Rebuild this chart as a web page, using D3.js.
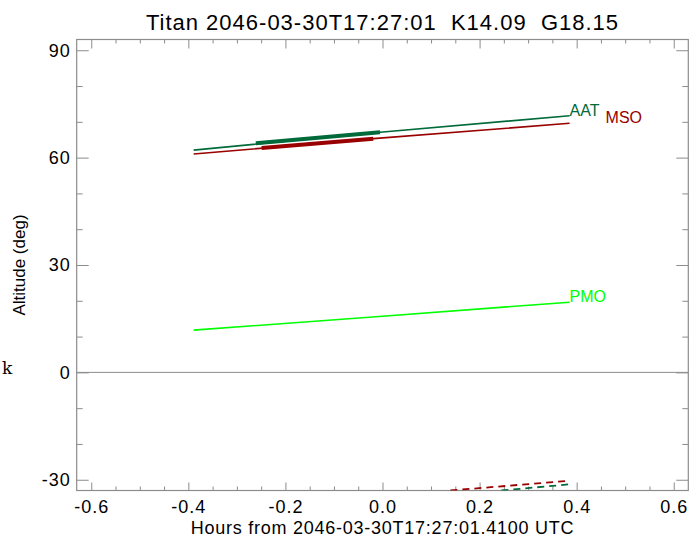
<!DOCTYPE html>
<html>
<head>
<meta charset="utf-8">
<script src="https://cdn.jsdelivr.net/npm/d3@7"></script>
<style>
  html, body { margin: 0; padding: 0; background: #fff; }
  svg { display: block; }
</style>
</head>
<body>
<svg id="chart" width="700" height="539"></svg>
<script>
const titleText = "Titan 2046-03-30T17:27:01  K14.09  G18.15";
const xLabel = "Hours from 2046-03-30T17:27:01.4100 UTC";
const yLabel = "Altitude (deg)";
const sideMark = "k";

const xDomain = [-0.63, 0.63];
const yDomain = [-33, 93];
const xTicks = [-0.6, -0.4, -0.2, 0.0, 0.2, 0.4, 0.6];
const xTickLabels = ["-0.6", "-0.4", "-0.2", "0.0", "0.2", "0.4", "0.6"];
const yTicks = [-30, 0, 30, 60, 90];
const yTickLabels = ["-30", "0", "30", "60", "90"];

const observatories = ["AAT", "MSO", "PMO"];
const colors = ["#006a3a", "#990000", "#00ff00"];

// thin tracks: [hours, altitude]
const aatTrack = [[-0.389, 62.1], [-0.005, 67.1], [0.3855, 71.7]];
const msoTrack = [[-0.389, 61.0], [-0.019, 65.3], [0.3855, 69.6]];
const pmoTrack = [[-0.389, 11.8], [0.0, 15.7], [0.3855, 19.6]];
// thick (dark-time) segments
const aatThick = [[-0.261, 64.0], [-0.005, 67.1]];
const msoThick = [[-0.249, 62.7], [-0.019, 65.3]];
// dashed tracks near the bottom
const aatDashed = [[0.245, -33.0], [0.383, -31.3]];
const msoDashed = [[0.140, -33.0], [0.382, -30.3]];

const margin = { left: 76.7, right: 700 - 688.3, top: 39.5, bottom: 539 - 490.5 };
const W = 700, H = 539;
const svg = d3.select("#chart");
const x = d3.scaleLinear().domain(xDomain).range([margin.left, W - margin.right]);
const y = d3.scaleLinear().domain(yDomain).range([H - margin.bottom, margin.top]);
const axisColor = "#8c8c8c";
const font = "'Liberation Sans', Arial, Helvetica, sans-serif";

svg.append("defs").append("clipPath").attr("id", "clip")
  .append("rect").attr("x", x(xDomain[0])).attr("y", y(yDomain[1]))
  .attr("width", x(xDomain[1]) - x(xDomain[0])).attr("height", y(yDomain[0]) - y(yDomain[1]));

// minor ticks
const xMinor = d3.range(-0.6, 0.6001, 0.05).map(v => +v.toFixed(2)).filter(v => !xTicks.some(t => Math.abs(t - v) < 1e-6));
const yMinor = d3.range(-30, 91, 10).filter(v => !yTicks.includes(v));

const g = svg.append("g");
function axisStyle(sel) {
  sel.select(".domain").remove();
  sel.selectAll("line").attr("stroke", axisColor).attr("stroke-width", 1);
  sel.selectAll("text").attr("fill", "#000").style("font-family", font).style("font-size", "18px")
    .style("letter-spacing", "1px");
}
// bottom
g.append("g").attr("transform", `translate(0,${y(yDomain[0])})`)
  .call(d3.axisTop(x).tickValues(xTicks).tickFormat("").tickSizeInner(8).tickSizeOuter(0)).call(axisStyle);
g.append("g").attr("transform", `translate(0,${y(yDomain[0])})`)
  .call(d3.axisTop(x).tickValues(xMinor).tickFormat("").tickSizeInner(4).tickSizeOuter(0)).call(axisStyle);
g.append("g").attr("transform", `translate(0,${y(yDomain[0])})`)
  .call(d3.axisBottom(x).tickValues(xTicks).tickFormat((d, i) => xTickLabels[i]).tickSize(0).tickPadding(10)).call(axisStyle)
  .selectAll("line").remove();
// top
g.append("g").attr("transform", `translate(0,${y(yDomain[1])})`)
  .call(d3.axisBottom(x).tickValues(xTicks).tickFormat("").tickSizeInner(9).tickSizeOuter(0)).call(axisStyle);
g.append("g").attr("transform", `translate(0,${y(yDomain[1])})`)
  .call(d3.axisBottom(x).tickValues(xMinor).tickFormat("").tickSizeInner(4).tickSizeOuter(0)).call(axisStyle);
// left
g.append("g").attr("transform", `translate(${x(xDomain[0])},0)`)
  .call(d3.axisRight(y).tickValues(yTicks).tickFormat("").tickSizeInner(12).tickSizeOuter(0)).call(axisStyle);
g.append("g").attr("transform", `translate(${x(xDomain[0])},0)`)
  .call(d3.axisRight(y).tickValues(yMinor).tickFormat("").tickSizeInner(6).tickSizeOuter(0)).call(axisStyle);
g.append("g").attr("transform", `translate(${x(xDomain[0])},0)`)
  .call(d3.axisLeft(y).tickValues(yTicks).tickFormat((d, i) => yTickLabels[i]).tickSize(0).tickPadding(6)).call(axisStyle)
  .selectAll("line").remove();
// right
g.append("g").attr("transform", `translate(${x(xDomain[1])},0)`)
  .call(d3.axisLeft(y).tickValues(yTicks).tickFormat("").tickSizeInner(12).tickSizeOuter(0)).call(axisStyle);
g.append("g").attr("transform", `translate(${x(xDomain[1])},0)`)
  .call(d3.axisLeft(y).tickValues(yMinor).tickFormat("").tickSizeInner(6).tickSizeOuter(0)).call(axisStyle);

// frame
svg.append("rect").attr("x", x(xDomain[0])).attr("y", y(yDomain[1]))
  .attr("width", x(xDomain[1]) - x(xDomain[0])).attr("height", y(yDomain[0]) - y(yDomain[1]))
  .attr("fill", "none").attr("stroke", axisColor).attr("stroke-width", 1.2);
// zero line
svg.append("line").attr("x1", x(xDomain[0])).attr("x2", x(xDomain[1]))
  .attr("y1", y(0)).attr("y2", y(0)).attr("stroke", axisColor).attr("stroke-width", 1);

const line = d3.line().x(d => x(d[0])).y(d => y(d[1]));
const plot = svg.append("g").attr("clip-path", "url(#clip)");
const tracks = [aatTrack, msoTrack, pmoTrack];
tracks.forEach((t, i) => {
  plot.append("path").datum(t).attr("d", line).attr("fill", "none")
    .attr("stroke", colors[i]).attr("stroke-width", 1.6);
});
[aatThick, msoThick].forEach((t, i) => {
  plot.append("path").datum(t).attr("d", line).attr("fill", "none")
    .attr("stroke", colors[i]).attr("stroke-width", 4);
});
[aatDashed, msoDashed].forEach((t, i) => {
  plot.append("path").datum(t).attr("d", line).attr("fill", "none")
    .attr("stroke", colors[i]).attr("stroke-width", 1.8).attr("stroke-dasharray", "7,5");
});

// labels at end of tracks
const labelDx = [0, 36, 0];
tracks.forEach((t, i) => {
  const last = t[t.length - 1];
  svg.append("text").attr("x", x(last[0]) + labelDx[i]).attr("y", y(last[1]))
    .attr("fill", colors[i]).style("font-family", font).style("font-size", "16px")
    .text(observatories[i]);
});

// title
svg.append("text").attr("x", (x(xDomain[0]) + x(xDomain[1])) / 2).attr("y", 30)
  .attr("text-anchor", "middle").style("font-family", font).style("font-size", "22px")
  .style("white-space", "pre").style("letter-spacing", "1px")
  .text(titleText);
// x label
svg.append("text").attr("x", (x(xDomain[0]) + x(xDomain[1])) / 2).attr("y", 534)
  .attr("text-anchor", "middle").style("font-family", font).style("font-size", "18px")
  .style("letter-spacing", "0.75px")
  .text(xLabel);
// y label
svg.append("text").attr("transform", `translate(25,${(y(yDomain[0]) + y(yDomain[1])) / 2}) rotate(-90)`)
  .attr("text-anchor", "middle").style("font-family", font).style("font-size", "17px")
  .text(yLabel);
// side mark
svg.append("text").attr("x", 2).attr("y", 374)
  .style("font-family", "'DejaVu Serif', 'Liberation Serif', serif").style("font-size", "17px")
  .text(sideMark);
</script>
</body>
</html>
